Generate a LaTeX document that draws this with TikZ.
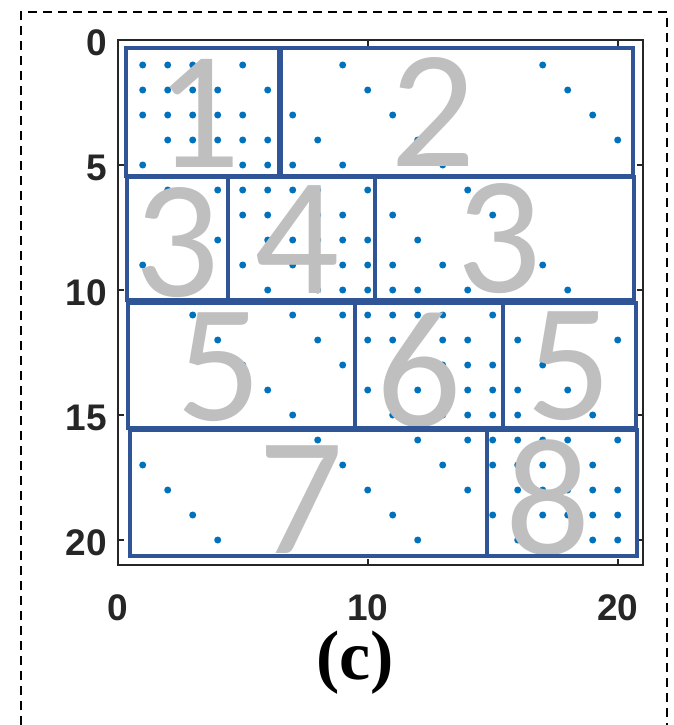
\documentclass[tikz,border=0pt]{standalone}
\usepackage{fontspec}
\newfontfamily\digfont{Carlito}
\newfontfamily\axfont{Liberation Sans}
\newfontfamily\capfont{Liberation Serif}
\definecolor{blockc}{HTML}{2F5597}
\definecolor{dotc}{HTML}{0072BD}
\definecolor{digc}{HTML}{BFBFBF}
\definecolor{axc}{HTML}{262626}
\tikzset{
  blockbox/.style={draw=blockc, line width=3.8pt},
  axisline/.style={draw=axc, line width=1.6pt},
  frameline/.style={draw=black, line width=1.8pt, dash pattern=on 9pt off 6pt},
  dig/.style={inner sep=0pt, text=digc, font=\digfont\fontsize{168}{168}\selectfont},
  ticklab/.style={inner sep=0pt, text=axc, font=\axfont\bfseries\fontsize{37}{37}\selectfont},
  caplab/.style={inner sep=0pt, font=\capfont\bfseries\fontsize{70}{70}\selectfont},
}
\begin{document}
\begin{tikzpicture}[x=1pt,y=-1pt]
\useasboundingbox (0,0) rectangle (674,725);
\fill[white] (0,0) rectangle (674,725);
% dashed frame
\coordinate (fbl) at (21,725);
\coordinate (ftl) at (21,12);
\coordinate (ftr) at (667,12);
\coordinate (fbr) at (667,725);
\draw[frameline] (fbl) -- (ftl) -- (ftr) -- (fbr);
% axes box
\coordinate (axtl) at (117.7,40);
\coordinate (axbr) at (642.7,565);
\draw[axisline] (axtl) rectangle (axbr);
\foreach \t in {0,10,20} {
  \draw[axisline] ({117.7+25*\t},565) -- ++(0,-6);
  \draw[axisline] ({117.7+25*\t},40) -- ++(0,6);
  \node[ticklab] (xl\t) at ({117.7+25*\t},608) {\t};
}
\foreach \t in {0,5,10,15,20} {
  \draw[axisline] (117.7,{40+25*\t}) -- ++(6,0);
  \draw[axisline] (642.7,{40+25*\t}) -- ++(-6,0);
  \node[ticklab, anchor=east] (yl\t) at (107,{43+25*\t}) {\t};
}
% dots (row/col)
\foreach \r/\cols in {
  1/{1,2,3,5,9,17},
  2/{1,2,3,4,6,10,18},
  3/{1,2,3,4,5,7,11,19},
  4/{2,3,4,5,6,8,12,20},
  5/{1,5,6,7,9,13},
  6/{2,4,5,6,7,8,10,14},
  7/{5,6,8,9,11,15},
  8/{4,6,7,8,9,10,12,16},
  9/{1,5,7,9,10,11,13,17},
  10/{6,8,9,10,11,12,14,18},
  11/{3,7,9,10,11,12,13,15,19},
  12/{4,8,10,11,12,13,14,16,20},
  13/{5,9,13,14,15,17},
  14/{6,10,12,14,15,16,18},
  15/{7,11,13,14,15,16,19},
  16/{8,12,14,15,16,17,18,20},
  17/{1,9,13,15,16,17,19},
  18/{2,10,14,16,17,18,19,20},
  19/{3,11,15,17,18,19,20},
  20/{4,12,16,19,20}} {
  \foreach \c in \cols {
    \fill[dotc] ({117.7+25*\c},{40+25*\r}) circle (3.5pt);
  }
}
% big block numbers
\node[dig] (d1) at (198,113) {1};
\node[dig] (d2) at (433,112) {2};
\node[dig] (d3a) at (177,243) {3};
\node[dig] (d4) at (297,240) {4};
\node[dig] (d3b) at (499,239) {3};
\node[dig] (d5a) at (219,367) {5};
\node[dig] (d6) at (419,370) {6};
\node[dig] (d5b) at (569,366) {5};
\node[dig] (d7) at (301,500) {7};
\node[dig] (d8) at (548,498) {8};
% block rectangles
\draw[blockbox] (126,48) rectangle (280,176);
\draw[blockbox] (280,48) rectangle (633,176);
\draw[blockc, line width=6pt] (280,48) -- (280,176);
\draw[blockbox] (127,177) rectangle (228,300);
\draw[blockbox] (228,177) rectangle (375,300);
\draw[blockbox] (375,177) rectangle (634,300);
\draw[blockbox] (128,303) rectangle (355,428);
\draw[blockbox] (355,303) rectangle (503,428);
\draw[blockbox] (503,303) rectangle (636,428);
\draw[blockbox] (130,430) rectangle (487,556);
\draw[blockbox] (487,430) rectangle (637,556);
% caption
\node[caplab] (cap) at (355,663) {(c)};
\end{tikzpicture}
\end{document}
